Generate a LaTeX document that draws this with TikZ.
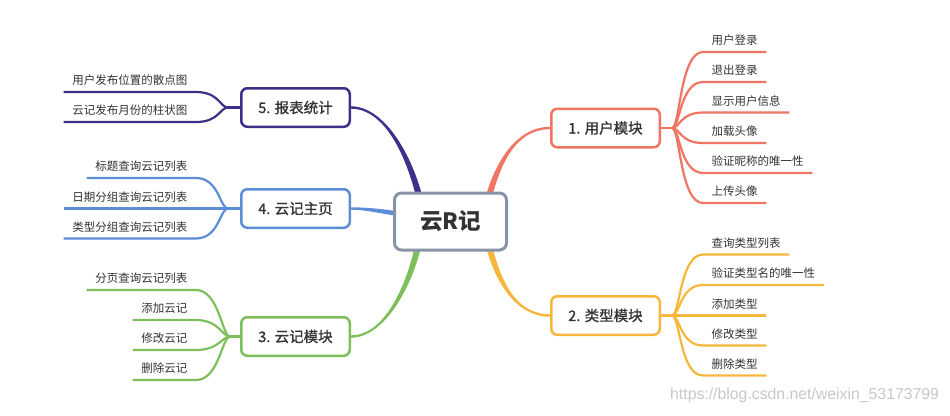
\documentclass[tikz,border=0pt]{standalone}
\usepackage{fontspec}
\setmainfont{Noto Sans CJK SC}
\newfontfamily\topicfont{Noto Sans CJK SC}[FakeBold=1.2]
\newfontfamily\wmfont{Liberation Sans}
\usetikzlibrary{calc}
\pgfdeclarelayer{bg}
\pgfsetlayers{bg,main}
\definecolor{cred}{HTML}{EE7662}
\definecolor{cyel}{HTML}{F6B73C}
\definecolor{cgrn}{HTML}{7DBF5B}
\definecolor{cblu}{HTML}{5B8ED7}
\definecolor{cind}{HTML}{3C3089}
\definecolor{cgry}{HTML}{8793A6}
\definecolor{ctxt}{HTML}{333333}
\definecolor{cwm}{HTML}{C8C8C8}
\newcommand\mybranch[7]{%
  \fill[#1] ($#2+#6$) .. controls ($#3+#6$) and ($#4+#7$) .. ($#5+#7$) -- ($#5-#7$) .. controls ($#4-#7$) and ($#3-#6$) .. ($#2-#6$) -- cycle;}
\newcommand\myrleaf[3]{\draw[twig,#1] (#2) .. controls ($(#2)+(8,0)$) and ($(#3.south west)+(-23,0)$) .. (#3.south west) -- (#3.south east);}
\newcommand\mylleaf[3]{\draw[twig,#1] (#2) .. controls ($(#2)+(-8,0)$) and ($(#3.south east)+(23,0)$) .. (#3.south east) -- (#3.south west);}
\begin{document}
\begin{tikzpicture}[x=1pt,y=-1pt,
  topic/.style={draw, line width=2.5pt, rounded corners=6pt, fill=white, minimum width=108.5pt, minimum height=38.5pt, inner sep=0pt, font=\topicfont\fontsize{14.5}{16}\selectfont, text=ctxt},
  leaf/.style={inner xsep=8.5pt, inner ysep=7pt, text height=9pt, text depth=0pt, font=\fontsize{11.5}{13}\selectfont, text=ctxt},
  rleaf/.style={leaf, anchor=south west},
  lleaf/.style={leaf, anchor=south east},
  twig/.style={line width=2.2pt},
]
\useasboundingbox (0,0) rectangle (950,415);

% center and topics
\node[draw=cgry, line width=3pt, rounded corners=7pt, fill=white, minimum width=112pt, minimum height=57pt, inner sep=0pt, font=\fontsize{22.5}{24}\selectfont\bfseries, text=ctxt] (c) at (450.5,221.5) {云R记};
\node[topic, draw=cred] (n1) at (605.5,128) {1. 用户模块};
\node[topic, draw=cyel] (n2) at (605.5,315.5) {2. 类型模块};
\node[topic, draw=cgrn] (n3) at (295.5,336.5) {3. 云记模块};
\node[topic, draw=cblu] (n4) at (295.5,208.5) {4. 云记主页};
\node[topic, draw=cind] (n5) at (295.5,107.5) {5. 报表统计};

\begin{pgfonlayer}{bg}
\fill[white] (0,0) rectangle (950,415);
\mybranch{cred}{(c)+(37.5,-21.5)}{(c)+(46.5,-56.5)}{(n1.west)+(-35,0)}{(n1.west)}{(3.2,0)}{(0,1.2)}
\mybranch{cyel}{(c)+(37.5,20.5)}{(c)+(46.5,58.5)}{(n2.west)+(-35,0)}{(n2.west)}{(3.2,0)}{(0,-1.2)}
\mybranch{cind}{(c)+(-30.5,-21.5)}{(c)+(-40.5,-64.5)}{(n5.east)+(34,0)}{(n5.east)}{(-3.2,0)}{(0,1.2)}
\mybranch{cgrn}{(c)+(-31.5,20.5)}{(c)+(-40.5,63.5)}{(n3.east)+(34,0)}{(n3.east)}{(-3.2,0)}{(0,-1.2)}
\mybranch{cblu}{(c)+(-50.5,-7.5)}{(c)+(-70.5,-10.5)}{(n4.east)+(14,0)}{(n4.east)}{(0,2.4)}{(0,1.2)}
\end{pgfonlayer}

% origins
\coordinate (o1) at ($(n1.east)+(11,0)$);
\coordinate (o2) at ($(n2.east)+(11,0)$);
\coordinate (o3) at ($(n3.west)+(-10,0)$);
\coordinate (o4) at ($(n4.west)+(-12,0)$);
\coordinate (o5) at ($(n5.west)+(-12,0)$);
\draw[twig,cred] (n1.east) -- (o1);
\draw[twig,cyel] (n2.east) -- (o2);
\draw[twig,cgrn] (n3.west) -- (o3);
\draw[twig,cblu] (n4.west) -- (o4);
\draw[twig,cind] (n5.west) -- (o5);

% red leaves
\node[rleaf] (r1) at (703,52) {用户登录};
\node[rleaf] (r2) at (703,82) {退出登录};
\node[rleaf] (r3) at (703,112.5) {显示用户信息};
\node[rleaf] (r4) at (703,143) {加载头像};
\node[rleaf] (r5) at (703,173) {验证昵称的唯一性};
\node[rleaf] (r6) at (703,203) {上传头像};
\foreach \i in {1,...,6} {\myrleaf{cred}{o1}{r\i}}

% yellow leaves
\node[rleaf] (y1) at (703,254.5) {查询类型列表};
\node[rleaf] (y2) at (703,285) {验证类型名的唯一性};
\node[rleaf] (y3) at (703,315.5) {添加类型};
\node[rleaf] (y4) at (703,345.5) {修改类型};
\node[rleaf] (y5) at (703,375.5) {删除类型};
\foreach \i in {1,...,5} {\myrleaf{cyel}{o2}{y\i}}

% indigo leaves
\node[lleaf] (p1) at (196,92) {用户发布位置的散点图};
\node[lleaf] (p2) at (196,122) {云记发布月份的柱状图};
\foreach \i in {1,2} {\mylleaf{cind}{o5}{p\i}}

% blue leaves
\node[lleaf] (b1) at (196,178) {标题查询云记列表};
\node[lleaf] (b2) at (196,208.5) {日期分组查询云记列表};
\node[lleaf] (b3) at (196,238.5) {类型分组查询云记列表};
\foreach \i in {1,2,3} {\mylleaf{cblu}{o4}{b\i}}

% green leaves
\node[lleaf] (g1) at (196,290) {分页查询云记列表};
\node[lleaf] (g2) at (196,320) {添加云记};
\node[lleaf] (g3) at (196,350) {修改云记};
\node[lleaf] (g4) at (196,380) {删除云记};
\foreach \i in {1,...,4} {\mylleaf{cgrn}{o3}{g\i}}

% watermark
\node[anchor=west, inner sep=0pt, text=cwm, font=\wmfont\fontsize{15.8}{17}\selectfont] (wm) at (670,395) {https://blog.csdn.net/weixin\_53173799};
\end{tikzpicture}
\end{document}
